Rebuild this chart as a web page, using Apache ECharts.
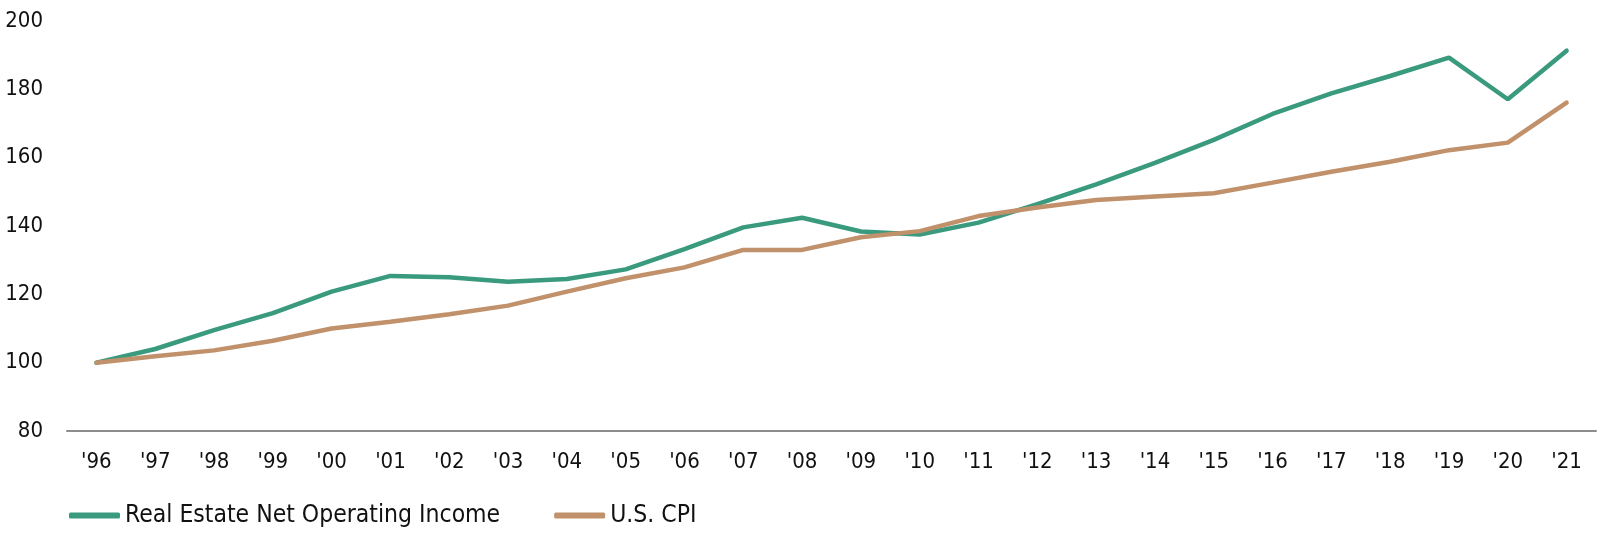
<!DOCTYPE html>
<html>
<head>
<meta charset="utf-8">
<script src="https://cdn.jsdelivr.net/npm/echarts@6/dist/echarts.min.js"></script>
<style>
html,body{margin:0;padding:0;background:#fff;}
#chart{width:1600px;height:533px;}
</style>
</head>
<body>
<div id="chart"></div>
<script>
const categories = ["'96","'97","'98","'99","'00","'01","'02","'03","'04","'05","'06","'07","'08","'09","'10","'11","'12","'13","'14","'15","'16","'17","'18","'19","'20","'21"];
const noiValues = [100, 104, 109.5, 114.5, 120.8, 125.4, 125, 123.7, 124.5, 127.3, 133.2, 139.6, 142.4, 138.4, 137.5, 141, 146.4, 152.2, 158.5, 165.2, 172.8, 178.8, 183.9, 189.3, 177.1, 191.3];
const cpiValues = [100, 101.9, 103.6, 106.4, 110, 112, 114.2, 116.7, 120.8, 124.7, 127.9, 133, 133, 136.7, 138.5, 142.9, 145.4, 147.6, 148.6, 149.6, 152.7, 155.9, 158.8, 162.2, 164.4, 176.1];
const yTicks = {min: 80, max: 200, interval: 20};
const seriesNames = ['Real Estate Net Operating Income', 'U.S. CPI'];

const font = "'DejaVu Sans Condensed', 'DejaVu Sans', sans-serif";
const chart = echarts.init(document.getElementById('chart'));
chart.setOption({
  animation: false,
  textStyle: {fontFamily: font},
  grid: {left: 67, right: 4, top: 21, bottom: 102, containLabel: false},
  legend: {
    left: 64, top: 498,
    icon: 'roundRect', itemWidth: 51, itemHeight: 6, itemGap: 54,
    textStyle: {fontFamily: font, fontSize: 24.5, color: '#111'},
    data: seriesNames
  },
  xAxis: {
    type: 'category', data: categories, boundaryGap: true,
    axisLine: {lineStyle: {color: '#8c8c8c', width: 2}},
    axisTick: {show: false},
    axisLabel: {fontFamily: font, fontSize: 22, color: '#111', margin: 20, interval: 0}
  },
  yAxis: {
    type: 'value', min: yTicks.min, max: yTicks.max, interval: yTicks.interval,
    axisLine: {show: false}, axisTick: {show: false}, splitLine: {show: false},
    axisLabel: {fontFamily: font, fontSize: 22, color: '#111', margin: 24}
  },
  series: [
    {name: seriesNames[0], type: 'line', data: noiValues, symbol: 'none',
     lineStyle: {color: '#3a9a7e', width: 4.5, cap: 'round'}, itemStyle: {color: '#3a9a7e'}},
    {name: seriesNames[1], type: 'line', data: cpiValues, symbol: 'none',
     lineStyle: {color: '#c0916a', width: 4.5, cap: 'round'}, itemStyle: {color: '#c0916a'}}
  ]
});
</script>
</body>
</html>
